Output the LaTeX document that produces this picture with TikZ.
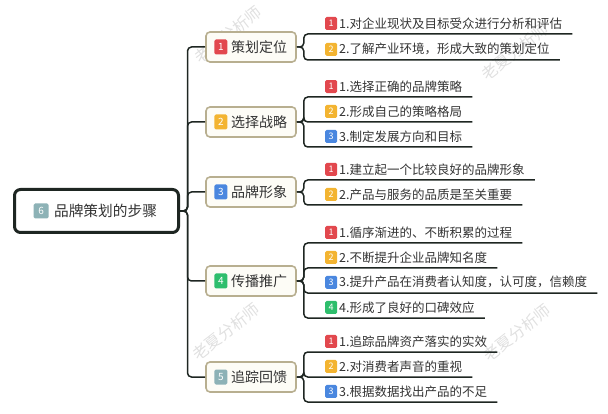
\documentclass[tikz,border=0pt]{standalone}
\usepackage{fontspec}
\setmainfont{Noto Sans CJK SC}

\definecolor{badgered}{HTML}{E2484E}
\definecolor{badgeorange}{HTML}{F3B431}
\definecolor{badgeblue}{HTML}{4A87DF}
\definecolor{badgegreen}{HTML}{2EBE6C}
\definecolor{badgegray}{HTML}{8DB2B6}
\definecolor{linkdark}{HTML}{1E2622}
\definecolor{boxedge}{HTML}{B8AF90}
\definecolor{boxfill}{HTML}{FDFCF6}
\definecolor{wmgray}{HTML}{E0E0E0}

\tikzset{
  badge/.style={draw=none, fill=#1, rounded corners=1.5pt, minimum width=12pt, minimum height=13pt, inner sep=0pt, text=white, font=\fontsize{9}{9}\selectfont},
  bigbadge/.style={minimum width=13pt, minimum height=15pt, font=\fontsize{10}{10}\selectfont},
  rootbox/.style 2 args={draw=linkdark, line width=3pt, rounded corners=6pt, fill=white, minimum width=164pt, minimum height=43pt, inner xsep=21.5pt, text width=121pt, align=right, font=\fontsize{14.7}{16}\selectfont, text=black!80, label={[badge=#1, bigbadge, minimum width=15pt, anchor=west, xshift=20.5pt]west:#2}},
  branchbox/.style 2 args={draw=boxedge, line width=1.6pt, rounded corners=4pt, fill=boxfill, minimum width=90pt, minimum height=30pt, inner xsep=9pt, text width=72pt, align=right, font=\fontsize{14}{16}\selectfont, text=black!80, label={[badge=#1, bigbadge, anchor=west, xshift=9pt]west:#2}},
  leaf/.style 2 args={anchor=south west, inner xsep=10pt, inner ysep=4.5pt, font=\fontsize{12.5}{14}\selectfont, text=black!80, label={[badge=#1, anchor=west, xshift=-4pt]west:#2}},
  link/.style={draw=linkdark, line width=1.5pt, rounded corners=4pt},
  wmark/.style={text=wmgray, rotate=38, font=\fontsize{16}{16}\selectfont}
}

\begin{document}
\begin{tikzpicture}[x=1pt,y=-1pt, label distance=0pt]
    \useasboundingbox (0,0) rectangle (608,414);

    \node[wmark] (wm1) at (228,35) {老夏分析师};
    \node[wmark] (wm2) at (226,332) {老夏分析师};
    \node[wmark] (wm3) at (515,52) {老夏分析师};
    \node[wmark] (wm4) at (517,333) {老夏分析师};

    \node[rootbox={badgegray}{6}] (root) at (96.5,211) {品牌策划的步骤};

    \node[branchbox={badgered}{1}] (b1) at (251,47) {策划定位};
    \node[branchbox={badgeorange}{2}] (b2) at (251,122) {选择战略};
    \node[branchbox={badgeblue}{3}] (b3) at (251,192) {品牌形象};
    \node[branchbox={badgegreen}{4}] (b4) at (251,281) {传播推广};
    \node[branchbox={badgegray}{5}] (b5) at (251,377) {追踪回馈};

    \node[leaf={badgered}{1}] (l11) at (329,34) {1.对企业现状及目标受众进行分析和评估};
    \node[leaf={badgeorange}{2}] (l12) at (329,60) {2.了解产业环境，形成大致的策划定位};

    \node[leaf={badgered}{1}] (l21) at (329,97) {1.选择正确的品牌策略};
    \node[leaf={badgeorange}{2}] (l22) at (329,122) {2.形成自己的策略格局};
    \node[leaf={badgeblue}{3}] (l23) at (329,147) {3.制定发展方向和目标};

    \node[leaf={badgered}{1}] (l31) at (329,180) {1.建立起一个比较良好的品牌形象};
    \node[leaf={badgeorange}{2}] (l32) at (329,205) {2.产品与服务的品质是至关重要};

    \node[leaf={badgered}{1}] (l41) at (329,243) {1.循序渐进的、不断积累的过程};
    \node[leaf={badgeorange}{2}] (l42) at (329,268) {2.不断提升企业品牌知名度};
    \node[leaf={badgeblue}{3}] (l43) at (329,293) {3.提升产品在消费者认知度，认可度，信赖度};
    \node[leaf={badgegreen}{4}] (l44) at (329,318) {4.形成了良好的口碑效应};

    \node[leaf={badgered}{1}] (l51) at (329,352) {1.追踪品牌资产落实的实效};
    \node[leaf={badgeorange}{2}] (l52) at (329,377) {2.对消费者声音的重视};
    \node[leaf={badgeblue}{3}] (l53) at (329,402) {3.根据数据找出产品的不足};

    \foreach \b in {b1,b2,b3,b4,b5}
        \draw[link] (root.east) -- ++(7.5,0) |- (\b.west);

    \foreach \l in {l11,l12}
        \draw[link] (b1.east) -- ++(7,0) |- (\l.south east);
    \foreach \l in {l21,l22,l23}
        \draw[link] (b2.east) -- ++(7,0) |- (\l.south east);
    \foreach \l in {l31,l32}
        \draw[link] (b3.east) -- ++(7,0) |- (\l.south east);
    \foreach \l in {l41,l42,l43,l44}
        \draw[link] (b4.east) -- ++(7,0) |- (\l.south east);
    \foreach \l in {l51,l52,l53}
        \draw[link] (b5.east) -- ++(7,0) |- (\l.south east);
\end{tikzpicture}
\end{document}
